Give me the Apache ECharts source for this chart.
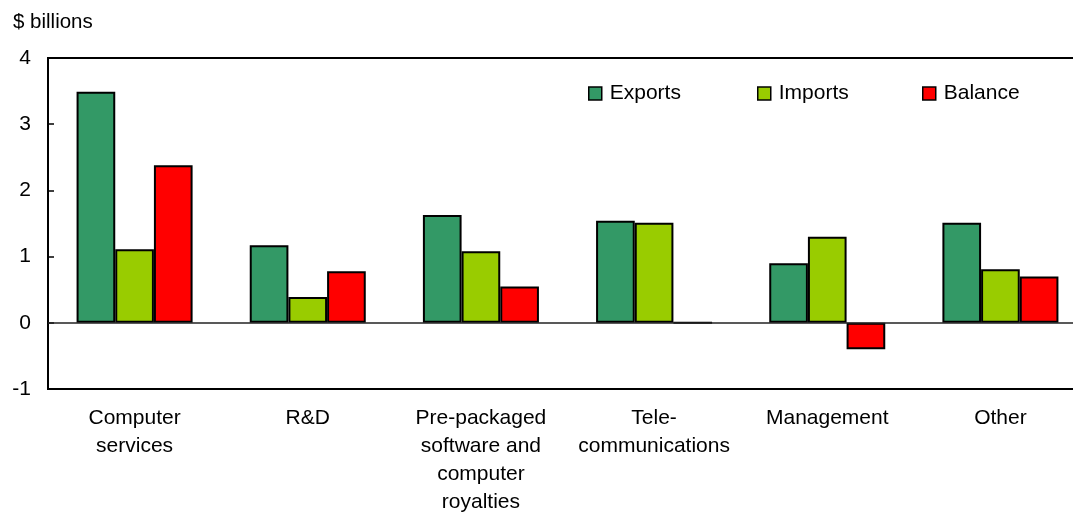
<!DOCTYPE html>
<html>
<head>
<meta charset="utf-8">
<script src="https://cdn.jsdelivr.net/npm/echarts@6/dist/echarts.min.js"></script>
<style>
  html, body { margin: 0; padding: 0; background: #fff; overflow: hidden; }
  #chart { width: 1073px; height: 512px; }
</style>
</head>
<body>
<div id="chart"></div>
<script>
// Services trade by type, $ billions
const categories = [
  'Computer\nservices',
  'R&D',
  'Pre-packaged\nsoftware and\ncomputer\nroyalties',
  'Tele-\ncommunications',
  'Management',
  'Other'
];
const exportsData = [3.49, 1.17, 1.63, 1.54, 0.90, 1.51];
const importsData = [1.11, 0.39, 1.08, 1.51, 1.30, 0.81];
const balanceData = [2.38, 0.78, 0.55, 0, -0.40, 0.70];
const yTicks = [-1, 0, 1, 2, 3, 4];

const FONT = '"Liberation Sans", Arial, Helvetica, sans-serif';
const colors = { Exports: '#339966', Imports: '#99cc00', Balance: '#ff0000' };

const chart = echarts.init(document.getElementById('chart'), null, { renderer: 'canvas' });

function barSeries(name, data, extra) {
  return Object.assign({
    name: name,
    type: 'bar',
    data: data,
    barGap: '0%',
    barCategoryGap: '33%',
    itemStyle: { color: colors[name], borderColor: '#000', borderWidth: 2 },
    emphasis: { disabled: true },
    animation: false
  }, extra || {});
}

function legendAt(name, left) {
  return {
    data: [name],
    left: left,
    top: 78,
    icon: 'rect',
    itemWidth: 13,
    itemHeight: 13,
    itemStyle: { borderColor: '#000', borderWidth: 1.5 },
    textStyle: { fontFamily: FONT, fontSize: 21, color: '#000', padding: [0, 0, 0, 3] },
    selectedMode: false
  };
}

chart.setOption({
  backgroundColor: '#fff',
  animation: false,
  title: {
    text: '$ billions',
    left: 8,
    top: 7,
    textStyle: { fontFamily: FONT, fontSize: 20.5, fontWeight: 'normal', color: '#000' }
  },
  legend: [legendAt('Exports', 583), legendAt('Imports', 752), legendAt('Balance', 917)],
  grid: {
    left: 48,
    top: 58,
    width: 1039,
    height: 331,
    show: true,
    borderColor: '#000',
    borderWidth: 2,
    containLabel: false,
    outerBoundsMode: 'none'
  },
  xAxis: {
    type: 'category',
    data: categories,
    axisLine: { show: false, onZero: false },
    axisTick: { show: false },
    axisLabel: {
      fontFamily: FONT,
      fontSize: 21,
      color: '#000',
      lineHeight: 28,
      margin: 15,
      interval: 0
    }
  },
  yAxis: {
    type: 'value',
    min: yTicks[0],
    max: yTicks[yTicks.length - 1],
    interval: 1,
    axisLine: { show: true, lineStyle: { color: '#000', width: 2 } },
    axisTick: { show: true, inside: true, length: 6, lineStyle: { color: '#000', width: 1.5 } },
    splitLine: { show: false },
    axisLabel: { fontFamily: FONT, fontSize: 21, color: '#000', margin: 17 }
  },
  series: [
    barSeries('Exports', exportsData, {
      markLine: {
        silent: true,
        symbol: 'none',
        label: { show: false },
        lineStyle: { color: '#222', width: 1.5, type: 'solid' },
        data: [{ yAxis: 0 }]
      }
    }),
    barSeries('Imports', importsData),
    barSeries('Balance', balanceData)
  ]
});
</script>
</body>
</html>
